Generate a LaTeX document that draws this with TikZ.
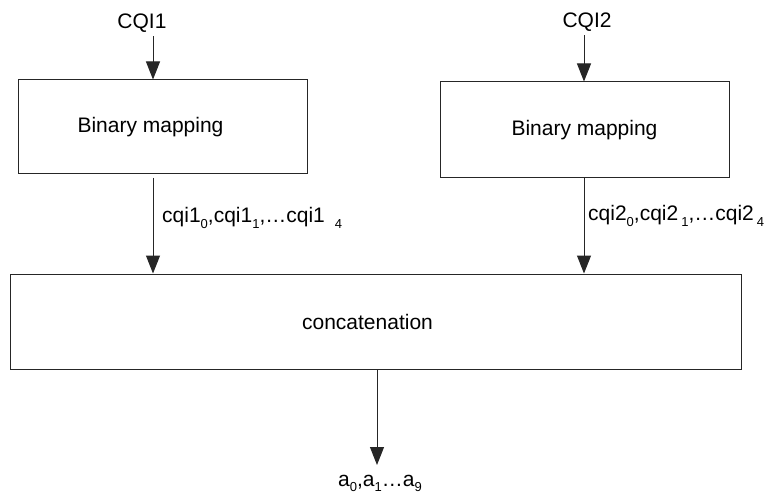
\documentclass[tikz,border=0pt]{standalone}
\usepackage{fontspec}
\setmainfont{Liberation Sans}
\usetikzlibrary{arrows.meta}
\newcommand\subx[1]{\raisebox{-0.28em}{\fontsize{13}{13}\selectfont #1}}
\begin{document}
\begin{tikzpicture}[x=1pt,y=-1pt,
  box/.style={draw=black!85,line width=1pt,inner sep=0pt},
  txt/.style={inner sep=0pt,font=\fontsize{21}{25}\selectfont},
  arr/.style={draw=black!85,line width=1pt,-{Triangle[length=18pt,width=14pt]}}]
\useasboundingbox (0,0) rectangle (771,497);
\fill[white] (0,0) rectangle (771,497);
% blocks
\node[box,minimum width=289pt,minimum height=94pt,font=\fontsize{21}{25}\selectfont] (b1) at (162.5,127) {Binary mapping\hspace*{24pt}};
\node[box,minimum width=289pt,minimum height=96pt,font=\fontsize{21}{25}\selectfont] (b2) at (584.5,130) {Binary mapping};
\node[box,minimum width=731pt,minimum height=95pt,font=\fontsize{21}{25}\selectfont] (cc) at (375.5,321.5) {concatenation\hspace*{16pt}};
% inputs
\node[txt,outer sep=4pt] (cqi1) at (142,23) {CQI1};
\node[txt,outer sep=4pt] (cqi2) at (587,22) {CQI2};
\coordinate (x1) at (153,0);
\coordinate (x2) at (584,0);
\coordinate (x3) at (377,0);
\draw[arr] (cqi1.south -| x1) -- (b1.north -| x1);
\draw[arr] (cqi2.south -| x2) -- (b2.north -| x2);
% intermediate
\coordinate (o1) at (153,178);
\draw[arr] (o1) -- (cc.north -| o1);
\draw[arr] (b2.south -| x2) -- (cc.north -| x2);
\node[txt,anchor=base west] (l1) at (162,223) {cqi1\subx{0},cqi1\subx{1},…cqi1\hspace{10pt}\subx{4}};
\node[txt,anchor=base west] (l2) at (588,221) {cqi2\subx{0},cqi2\hspace{3pt}\subx{1},…cqi2\hspace{3pt}\subx{4}};
% output
\coordinate (out) at (377,465);
\draw[arr] (cc.south -| x3) -- (out);
\node[txt,anchor=base] (a) at (380,486) {a\subx{0},a\subx{1}…a\subx{9}};
\end{tikzpicture}
\end{document}
